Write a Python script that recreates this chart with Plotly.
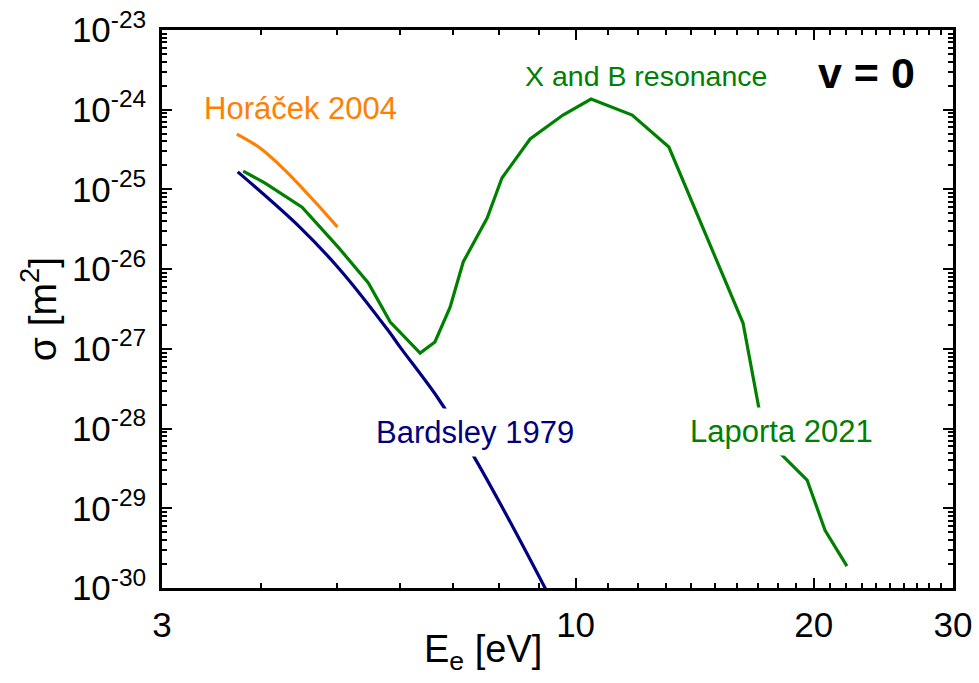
import plotly.graph_objects as go

# ---- data ----
bardsley_E = [3.74, 4.48, 5.04, 5.79, 6.0, 6.70, 7.42, 9.15, 9.56]
bardsley_sigma = [1.66e-25, 3.37e-26, 9.77e-27, 1.72e-27, 1.05e-27,
                  2.40e-28, 4.65e-29, 1.0e-30, 4.19e-31]

laporta_E = [3.80, 4.05, 4.51, 5.01, 5.47, 5.83, 6.36, 6.64, 6.94, 7.21, 7.73,
             8.07, 8.76, 9.64, 10.46, 11.79, 13.12, 16.28, 17.05, 17.71, 19.62,
             20.67, 22.03]
laporta_sigma = [1.70e-25, 1.20e-25, 6.0e-26, 1.89e-26, 6.7e-27, 2.17e-27,
                 8.85e-28, 1.22e-27, 3.34e-27, 1.23e-26, 4.38e-26, 1.39e-25,
                 4.29e-25, 8.58e-25, 1.36e-24, 8.58e-25, 3.40e-25, 2.11e-27,
                 1.81e-28, 6.2e-29, 2.26e-29, 5.3e-30, 1.88e-30]

horacek_E = [3.73, 3.99, 4.29, 4.66, 5.00]
horacek_sigma = [4.95e-25, 3.31e-25, 1.75e-25, 7.36e-26, 3.37e-26]

x_tick_vals = [3, 10, 20, 30]
x_tick_text = ["3", "10", "20", "30"]
x_minor_vals = [4, 5, 6, 7, 8, 9] + list(range(11, 20)) + list(range(21, 30))
y_exponents = list(range(-30, -22))
y_tick_vals = [10.0 ** e for e in y_exponents]
y_tick_text = ["10<sup>%d</sup>" % e for e in y_exponents]
y_minor_vals = [m * 10.0 ** e for e in range(-30, -23) for m in range(2, 10)]

NAVY = "#000080"
GREEN = "#008000"
ORANGE = "#FF8000"
FONT = "Liberation Sans, Arial, sans-serif"

fig = go.Figure()
fig.add_trace(go.Scatter(x=bardsley_E, y=bardsley_sigma, mode="lines",
                         line=dict(color=NAVY, width=3.2, shape="spline", smoothing=1.0),
                         name="Bardsley 1979"))
fig.add_trace(go.Scatter(x=laporta_E, y=laporta_sigma, mode="lines",
                         line=dict(color=GREEN, width=3.2), name="Laporta 2021"))
fig.add_trace(go.Scatter(x=horacek_E, y=horacek_sigma, mode="lines",
                         line=dict(color=ORANGE, width=3.2, shape="spline", smoothing=1.0),
                         name="Horáček 2004"))

axis_common = dict(showline=True, linecolor="black", linewidth=2.5, mirror="allticks",
                   ticks="inside", tickcolor="black", tickwidth=2, showgrid=False,
                   zeroline=False, automargin=False,
                   tickfont=dict(family=FONT, size=35, color="black"))

fig.update_xaxes(type="log", range=[0.47712, 1.47712], tickmode="array",
                 tickvals=x_tick_vals, ticktext=x_tick_text, ticklen=10,
                 minor=dict(ticks="inside", tickmode="array", tickvals=x_minor_vals,
                            ticklen=5, tickwidth=1.5, tickcolor="black", showgrid=False),
                 ticklabelstandoff=4,
                 **axis_common)
fig.update_yaxes(type="log", range=[-30, -23], tickmode="array",
                 tickvals=y_tick_vals, ticktext=y_tick_text, ticklen=10,
                 minor=dict(ticks="inside", tickmode="array", tickvals=y_minor_vals,
                            ticklen=5, tickwidth=1.5, tickcolor="black", showgrid=False),
                 title=dict(text="σ [m<sup>2</sup>]", font=dict(family=FONT, size=39, color="black"),
                            standoff=4),
                 ticklabelstandoff=6,
                 **axis_common)

ann_font = dict(family=FONT, size=31)
ann_common = dict(xref="paper", yref="paper", showarrow=False,
                  xanchor="center", yanchor="middle")
# x-axis title (placed off-centre as in the reference)
fig.add_annotation(text="E<sub>e</sub> [eV]", x=0.406, y=-0.115,
                   font=dict(family=FONT, size=38, color="black"), **ann_common)
fig.add_annotation(text="Horáček 2004", x=0.1745, y=0.860,
                   font=dict(color=ORANGE, **ann_font), **ann_common)
fig.add_annotation(text="X and B resonance", x=0.612, y=0.918,
                   font=dict(color=GREEN, family=FONT, size=28.5), **ann_common)
fig.add_annotation(text="<b>v = 0</b>", x=0.891, y=0.923,
                   font=dict(color="black", family=FONT, size=43), **ann_common)
fig.add_annotation(text="Bardsley 1979", x=0.396, y=0.278,
                   bgcolor="white", borderpad=6,
                   font=dict(color=NAVY, **ann_font), **ann_common)
fig.add_annotation(text="Laporta 2021", x=0.7826, y=0.281,
                   bgcolor="white", borderpad=6,
                   font=dict(color=GREEN, **ann_font), **ann_common)

fig.update_layout(width=979, height=683, showlegend=False,
                  plot_bgcolor="white", paper_bgcolor="white",
                  margin=dict(l=162, r=26, t=30, b=95, autoexpand=False),
                  font=dict(family=FONT, color="black"))

fig.write_html("out.html")
